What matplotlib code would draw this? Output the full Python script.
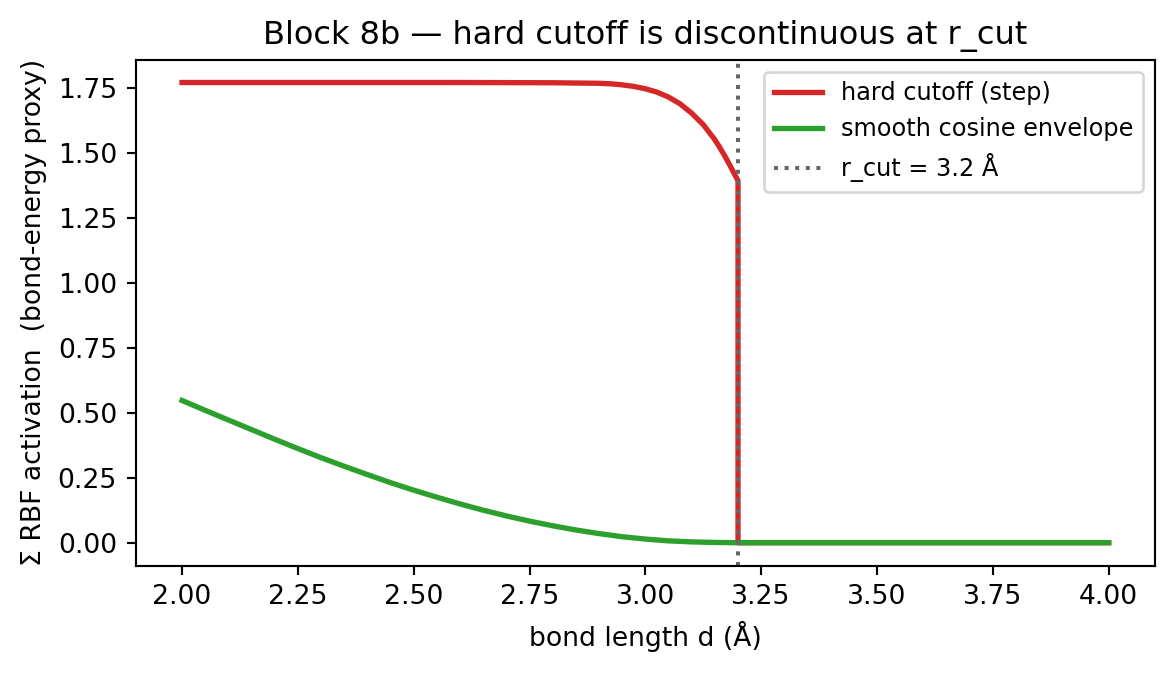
import matplotlib
matplotlib.use("Agg")
import matplotlib.pyplot as plt

# bond length grid and read-off values
d_hard = [2.00, 2.20, 2.40, 2.60, 2.80, 2.85, 2.90, 2.925, 2.95, 2.975, 3.00, 3.025,
          3.05, 3.075, 3.10, 3.125, 3.15, 3.16, 3.17, 3.18, 3.19, 3.20, 3.20, 3.60, 4.00]
hard_vals = [1.770, 1.770, 1.770, 1.770, 1.769, 1.768, 1.767, 1.765, 1.761, 1.755,
             1.746, 1.733, 1.714, 1.688, 1.652, 1.608, 1.550, 1.522, 1.492, 1.460,
             1.426, 1.392, 0.0, 0.0, 0.0]

d_smooth = [2.00, 2.05, 2.10, 2.15, 2.20, 2.25, 2.30, 2.35, 2.40, 2.45, 2.50,
            2.55, 2.60, 2.65, 2.70, 2.75, 2.80, 2.85, 2.90, 2.95, 3.00, 3.05,
            3.10, 3.15, 3.20, 3.60, 4.00]
smooth_vals = [0.547, 0.509, 0.472, 0.435, 0.398, 0.362, 0.327, 0.294, 0.262, 0.231,
               0.202, 0.175, 0.149, 0.125, 0.103, 0.083, 0.065, 0.049, 0.035, 0.023,
               0.014, 0.007, 0.003, 0.001, 0.0, 0.0, 0.0]

r_cut = 3.2

DPI = 192
fig = plt.figure(figsize=(1174 / DPI, 674 / DPI), dpi=DPI)
ax = fig.add_axes([135.7 / 1174, 1 - 565.7 / 674, (1155 - 135.7) / 1174, (565.7 - 59.5) / 674])

ax.plot(d_hard, hard_vals, color="tab:red", lw=2, label="hard cutoff (step)")
ax.plot(d_smooth, smooth_vals, color="tab:green", lw=2, label="smooth cosine envelope")
ax.axvline(r_cut, color="#666666", ls=":", lw=1.5, label="r_cut = 3.2 Å")

ax.set_title("Block 8b — hard cutoff is discontinuous at r_cut", fontsize=12)
ax.set_xlabel("bond length d (Å)", fontsize=10)
ax.set_ylabel("Σ RBF activation  (bond-energy proxy)", fontsize=10)
ax.tick_params(labelsize=10)
ax.legend(loc="upper right", fontsize=9)

fig.savefig("out.png", dpi=DPI)
